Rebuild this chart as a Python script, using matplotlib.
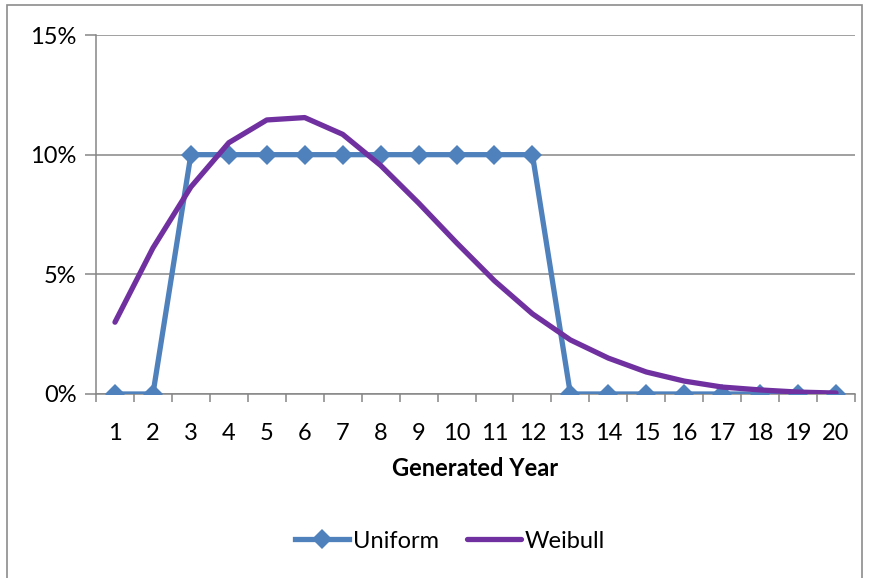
import matplotlib.pyplot as plt
from matplotlib.patches import Rectangle
from matplotlib.ticker import FuncFormatter, FixedLocator

plt.rcParams['font.family'] = ['Lato', 'DejaVu Sans']

# data
years = list(range(1, 21))
uniform = [0, 0, 10, 10, 10, 10, 10, 10, 10, 10, 10, 10, 0, 0, 0, 0, 0, 0, 0, 0]
weibull = [3.0, 6.1, 8.65, 10.5, 11.45, 11.55, 10.85, 9.55, 7.98, 6.32,
           4.73, 3.35, 2.26, 1.5, 0.92, 0.54, 0.29, 0.17, 0.08, 0.04]

W, H = 874, 578
dpi = 100
fig = plt.figure(figsize=(W / dpi, H / dpi), dpi=dpi)

# outer chart frame
fig.patches.append(Rectangle((7 / W, -0.05), (862 - 7) / W, 1.05 - 5 / H,
                             transform=fig.transFigure, fill=False,
                             edgecolor='#8c8c8c', linewidth=1.2))

ax = fig.add_axes([96 / W, 1 - 394 / H, (855 - 96) / W, (394 - 35) / H])

gray = '#868686'
ax.plot(years, [u / 100 for u in uniform], color='#4F81BD', linewidth=3.8,
        marker='D', markersize=10.5, markeredgewidth=0, label='Uniform', zorder=3)
ax.plot(years, [w / 100 for w in weibull], color='#7030A0', linewidth=3.8,
        solid_joinstyle='round', solid_capstyle='round', label='Weibull', zorder=4)

ax.set_xlim(0.5, 20.5)
ax.set_ylim(0, 0.15)
ax.set_yticks([0, 0.05, 0.10, 0.15])
ax.yaxis.set_major_formatter(FuncFormatter(lambda v, p: '%d%%' % round(v * 100)))
ax.set_xticks(years)
ax.xaxis.set_minor_locator(FixedLocator([i + 0.5 for i in range(0, 21)]))

ax.grid(axis='y', color=gray, linewidth=1.1)
ax.set_axisbelow(True)
for side in ['top', 'right']:
    ax.spines[side].set_visible(False)
for side in ['left', 'bottom']:
    ax.spines[side].set_color(gray)
    ax.spines[side].set_linewidth(1.1)

ax.tick_params(axis='x', which='major', length=0, pad=21, labelsize=17)
ax.tick_params(axis='x', which='minor', length=6, color=gray, width=1.1, direction='out')
ax.tick_params(axis='y', length=8, color=gray, width=1.1, labelsize=17, pad=6)

ax.set_xlabel('Generated Year', fontsize=17, fontweight='bold', labelpad=9)

fig.legend(loc='center', bbox_to_anchor=(450 / W, 1 - 541 / H), ncol=2,
           frameon=False, fontsize=17, handlelength=2.3, columnspacing=1.2,
           handletextpad=0.15)

fig.savefig('out.png', dpi=dpi)
